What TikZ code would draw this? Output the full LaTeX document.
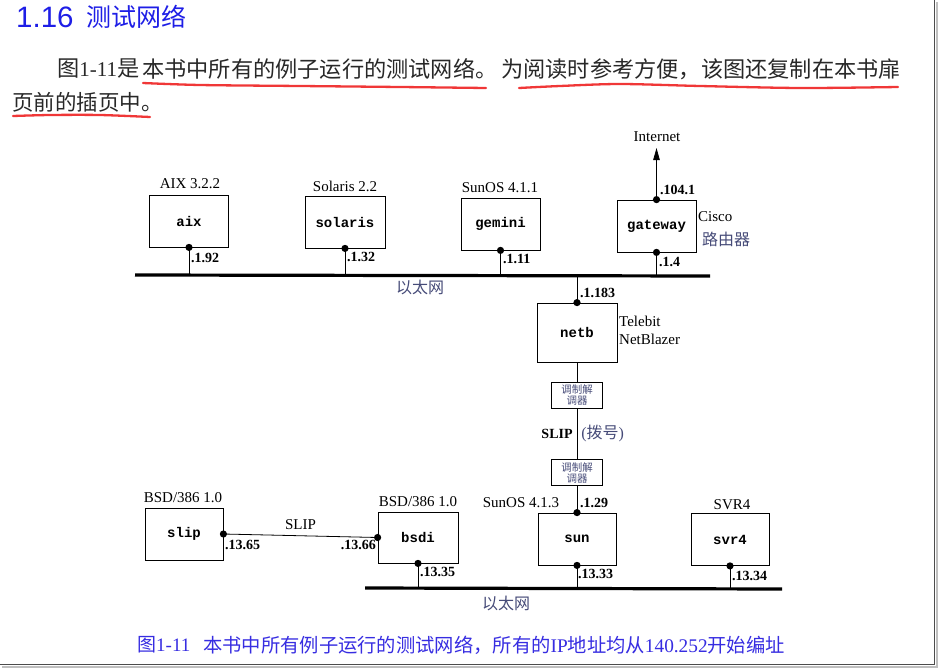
\documentclass[tikz,border=0pt]{standalone}
\usepackage{fontspec}
\setmainfont{Liberation Serif}
\newfontfamily\cjk{Noto Sans CJK SC}
\newfontfamily\mono{Liberation Mono}
\newfontfamily\hsans{Liberation Sans}
\usetikzlibrary{arrows.meta}
\definecolor{headblue}{RGB}{30,30,230}
\definecolor{capblue}{RGB}{55,45,225}
\definecolor{cjkgray}{RGB}{70,75,120}
\definecolor{penred}{RGB}{240,55,55}
\definecolor{bodyink}{RGB}{40,40,40}
\begin{document}
\begin{tikzpicture}[x=1pt,y=-1pt,
  host/.style={draw,line width=0.8pt,minimum width=79pt,minimum height=52pt,inner sep=0pt,
    font=\mono\bfseries\fontsize{14}{14}\selectfont},
  modem/.style={draw,line width=0.7pt,minimum width=51pt,minimum height=26pt,inner sep=0pt,
    align=center,text=cjkgray,font=\cjk\fontsize{10.5}{11}\selectfont},
  wire/.style={line width=0.8pt},
  eth/.style={line width=3.2pt},
  lbl/.style={inner sep=0pt,font=\fontsize{15}{15}\selectfont},
  addr/.style={inner sep=0pt,anchor=west,font=\bfseries\fontsize{14}{14}\selectfont},
  cjklbl/.style={inner sep=0pt,text=cjkgray,font=\cjk\fontsize{16}{16}\selectfont},
  body/.style={inner sep=0pt,anchor=west,text=bodyink,font=\cjk\fontsize{22.2}{22}\selectfont},
  penline/.style={penred,line width=2.3pt,line cap=round}
]
\useasboundingbox (0,0) rectangle (939,669);

% heading and body text
\node[inner sep=0pt,anchor=west,text=headblue] (h1) at (16,17) {\hsans\fontsize{29.5}{29.5}\selectfont 1.16};
\node[inner sep=0pt,anchor=west,text=headblue] (h2) at (86,17) {\cjk\fontsize{25}{25}\selectfont 测试网络};
\node[body] (b1) at (57,69) {图\rmfamily\fontsize{21}{22}\selectfont 1-11\cjk\fontsize{22.2}{22}\selectfont 是};
\node[body] (b2) at (142,69) {本书中所有的例子运行的测试网络。};
\node[body] (b3) at (501,69) {为阅读时参考方便，该图还复制在本书扉};
\node[body,font=\cjk\fontsize{21.5}{22}\selectfont] (b4) at (12,102) {页前的插页中。};
\draw[penline] plot[smooth] coordinates {(143,83) (200,85) (300,86) (400,87) (486,88)};
\draw[penline] plot[smooth] coordinates {(519,88) (560,86) (620,84) (700,86) (800,88) (898,87)};
\draw[penline] plot[smooth] coordinates {(13,116) (50,115) (100,115) (150,117)};

% Ethernet cables
\coordinate (e1L) at (135,275);
\coordinate (e1R) at (710,276);
\coordinate (e2L) at (365,588);
\coordinate (e2R) at (782,589);
\draw[eth] (e1L) -- (e1R);
\draw[eth] (e2L) -- (e2R);
\node[cjklbl] (eth1) at (420,287) {以太网};
\node[cjklbl] (eth2) at (506,603) {以太网};

% hosts
\node[host] (aix) at (189,221) {aix};
\node[host,minimum width=80pt] (solaris) at (345,222) {solaris};
\node[host] (gemini) at (500.5,224) {gemini};
\node[host] (gateway) at (656.5,226) {gateway};
\node[host,minimum width=80pt,minimum height=59pt] (netb) at (577,332.5) {netb};
\node[modem] (m1) at (577,395) {调制解\\调器};
\node[modem] (m2) at (577,472.5) {调制解\\调器};
\node[host,minimum width=78pt] (sun) at (577,539) {sun};
\node[host,minimum width=78pt] (svr4) at (730,539.5) {svr4};
\node[host,minimum width=78pt] (slip) at (184,534) {slip};
\node[host,minimum width=80pt,minimum height=51pt] (bsdi) at (418,537.5) {bsdi};

% OS labels
\node[lbl] (laix) at (190,184) {AIX 3.2.2};
\node[lbl] (lsol) at (345,186) {Solaris 2.2};
\node[lbl] (lgem) at (500,188) {SunOS 4.1.1};
\node[lbl] (lsun) at (521,503) {SunOS 4.1.3};
\node[lbl] (lsvr) at (732,505) {SVR4};
\node[lbl] (lslip) at (183,498) {BSD/386 1.0};
\node[lbl] (lbsdi) at (418,502) {BSD/386 1.0};
\node[lbl,anchor=west] (cisco) at (698,217) {Cisco};
\node[cjklbl,anchor=west] (router) at (702,239) {路由器};
\node[lbl,anchor=west] (tele) at (619,321) {Telebit};
\node[lbl,anchor=west] (nbz) at (619,339) {NetBlazer};

% Internet
\coordinate (inet) at (656.5,148);
\draw[wire,-{Triangle[length=12pt,width=6.5pt]}] (gateway.north) -- (inet);
\node[lbl] (linet) at (657,137) {Internet};

% drops to upper Ethernet
\draw[wire] (aix.south) -- (aix.south |- e1L);
\draw[wire] (solaris.south) -- (solaris.south |- e1L);
\draw[wire] (gemini.south) -- (gemini.south |- e1L);
\draw[wire] (gateway.south) -- (gateway.south |- e1L);
\draw[wire] (netb.north) -- (netb.north |- e1L);

% dial-up SLIP link
\draw[wire] (netb.south) -- (m1.north);
\draw[wire] (m1.south) -- node[lbl,left=4pt,font=\bfseries\fontsize{14}{14}\selectfont] {SLIP}
  node[cjklbl,right=4pt,font=\fontsize{16}{16}\selectfont] {(\cjk 拨号\rmfamily)} (m2.north);
\draw[wire] (m2.south) -- (sun.north);

% lower Ethernet drops
\draw[wire] (sun.south) -- (sun.south |- e2L);
\draw[wire] (svr4.south) -- (svr4.south |- e2L);
\draw[wire] (bsdi.south) -- (bsdi.south |- e2L);

% SLIP between slip and bsdi
\draw[wire] (slip.east) -- node[lbl,above=6pt] {SLIP} (bsdi.west);

% taps
\foreach \p in {aix.south,solaris.south,gemini.south,gateway.north,gateway.south,
  netb.north,sun.north,sun.south,svr4.south,slip.east,bsdi.west,bsdi.south}
  \fill (\p) circle[radius=3.6pt];

% addresses
\node[addr] (a1) at (191,258) {.1.92};
\node[addr] (a2) at (347,257) {.1.32};
\node[addr] (a3) at (503,259) {.1.11};
\node[addr] (a4) at (660,190) {.104.1};
\node[addr] (a5) at (659,262) {.1.4};
\node[addr] (a6) at (580,293) {.1.183};
\node[addr] (a7) at (580,503) {.1.29};
\node[addr] (a8) at (578,574) {.13.33};
\node[addr] (a9) at (732,576) {.13.34};
\node[addr] (a10) at (225,545) {.13.65};
\node[addr,anchor=east] (a11) at (376,545) {.13.66};
\node[addr] (a12) at (420,572) {.13.35};

% caption
\node[inner sep=0pt,anchor=west,text=capblue] (cap1) at (137,645)
  {\cjk\fontsize{19}{19}\selectfont 图\rmfamily 1-11};
\node[inner sep=0pt,anchor=west,text=capblue] (cap2) at (203,645)
  {\cjk\fontsize{19.3}{19}\selectfont 本书中所有例子运行的测试网络，所有的\rmfamily IP\cjk 地址均从\rmfamily 140.252\cjk 开始编址};

% page edge shadow
\draw[black!70,line width=1.5pt] (934.5,0) -- (934.5,664.5) -- (0,664.5);
\draw[black!25,line width=2pt] (937,2) -- (937,667) -- (2,667);
\end{tikzpicture}
\end{document}
